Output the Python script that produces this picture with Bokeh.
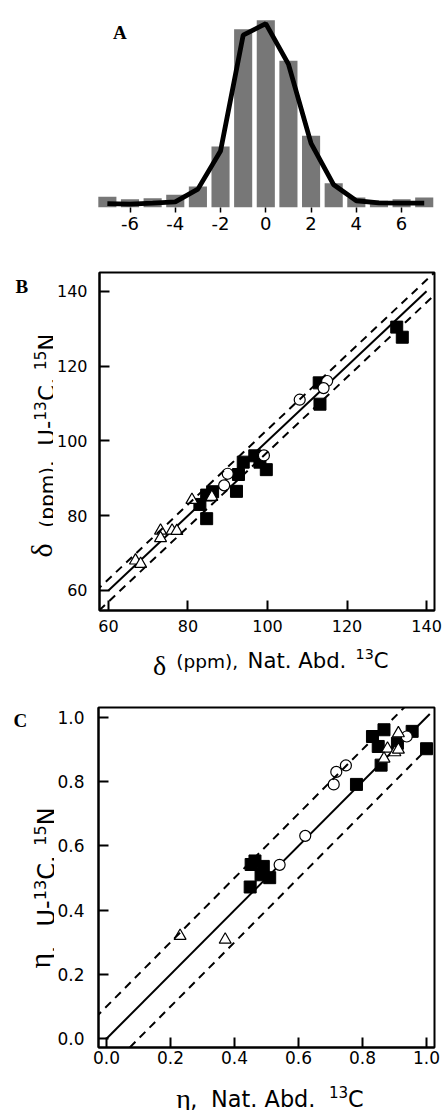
import numpy as np
from bokeh.plotting import figure
from bokeh.models import Range1d, Slope, FixedTicker, PrintfTickFormatter
from bokeh.core.properties import value
from bokeh.layouts import column, row
from bokeh.embed import file_html
from bokeh.resources import INLINE

# ---------------- data ----------------
# Panel A: histogram of differences (relative counts) and fitted curve
hist_bins = [-7, -6, -5, -4, -3, -2, -1, 0, 1, 2, 3, 4, 5, 6, 7]
hist_counts = [5.7, 4.4, 5.0, 6.8, 11.2, 32.6, 95.2, 100.0, 78.3, 38.3, 13.0, 5.3, 3.6, 4.4, 5.3]
fit_curve = [2.1, 1.8, 2.3, 3.0, 9.8, 30.2, 92.0, 98.2, 76.5, 34.2, 12.1, 3.6, 2.5, 2.3, 2.3]
hist_ticks = [-6, -4, -2, 0, 2, 4, 6]

# Panel B: delta (ppm)
b_sq_x = [132.5, 133.9, 113.2, 113.0, 93.9, 96.8, 98.1, 99.7, 92.7, 92.2, 86.2, 84.7, 83.0, 84.7]
b_sq_y = [130.4, 127.7, 109.8, 115.5, 94.3, 96.0, 94.3, 92.3, 91.0, 86.5, 86.4, 85.5, 83.0, 79.2]
b_ci_x = [115.0, 114.1, 108.1, 99.1, 90.0, 89.1]
b_ci_y = [116.0, 114.1, 111.0, 96.1, 91.2, 88.1]
b_tr_x = [81.0, 86.0, 73.1, 73.1, 76.0, 77.2, 66.8, 68.1]
b_tr_y = [84.2, 85.0, 76.0, 74.0, 76.0, 75.9, 68.0, 67.1]
b_fit_x = [60, 140]
b_band = 3.0
b_ticks = [60, 80, 100, 120, 140]

# Panel C: eta
c_sq_x = [0.831, 0.867, 0.849, 0.909, 0.955, 1.000, 0.858, 0.781, 0.452, 0.464, 0.490, 0.483, 0.510, 0.449]
c_sq_y = [0.940, 0.961, 0.909, 0.919, 0.956, 0.902, 0.851, 0.791, 0.542, 0.553, 0.536, 0.510, 0.501, 0.472]
c_ci_x = [0.938, 0.748, 0.718, 0.710, 0.621, 0.541]
c_ci_y = [0.940, 0.850, 0.830, 0.791, 0.631, 0.541]
c_tr_x = [0.912, 0.878, 0.901, 0.912, 0.867, 0.230, 0.371]
c_tr_y = [0.950, 0.902, 0.891, 0.899, 0.871, 0.320, 0.308]
c_fit_x = [0.0, 1.01]
c_band = 0.1
c_ticks = [0.0, 0.2, 0.4, 0.6, 0.8, 1.0]

SANS = "DejaVu Sans"
SERIF = "Liberation Serif"
R = np.pi / 2

# approximate advance widths (em) used to lay out multi-part labels
ADV = {" ": 0.318, "(": 0.390, ")": 0.390, ",": 0.318, "-": 0.361, ".": 0.318,
       "1": 0.636, "3": 0.636, "5": 0.636, "A": 0.684, "C": 0.698, "N": 0.748,
       "U": 0.732, "a": 0.613, "b": 0.635, "d": 0.635, "m": 0.974, "p": 0.635,
       "t": 0.392, "δ": 0.50, "η": 0.50}


def text_width(t, size):
    return sum(ADV.get(ch, 0.6) for ch in t) * size


def make_fig(left, top, width, height, fl, ft, fw, fh, xr, yr):
    p = figure(width=width, height=height, x_range=Range1d(*xr), y_range=Range1d(*yr),
               output_backend="svg", toolbar_location=None,
               min_border_left=fl - left, min_border_right=width - (fl - left) - fw,
               min_border_top=ft - top, min_border_bottom=height - (ft - top) - fh)
    p.grid.visible = False
    p.background_fill_color = "white"
    p.border_fill_color = "white"
    return p


def text_fig(left, top, width, height, bl=0, br=0, bt=0, bb=0):
    fw, fh = width - bl - br, height - bt - bb
    p = figure(width=width, height=height, x_range=Range1d(0, fw), y_range=Range1d(0, fh),
               output_backend="svg", toolbar_location=None, x_axis_type=None, y_axis_type=None,
               min_border_left=bl, min_border_right=br, min_border_top=bt, min_border_bottom=bb)
    p.grid.visible = False
    p.outline_line_color = None
    p.background_fill_color = "white"
    p.border_fill_color = "white"
    return p, dict(fl=left + bl, fb=top + bt + fh)


def piece(p, g, px, py, text, font, size, style="normal", angle=0.0):
    p.text(x=[px - g["fl"]], y=[g["fb"] - py], text=[text],
           text_font=value(font), text_font_size=value("%.1fpx" % size), text_font_style=style,
           angle=angle, text_align="left", text_baseline="alphabetic", text_color="black")


def lay_label(p, g, pieces, start, end, weights, rotated, grow=0.6):
    """pieces: (text, font, base_size, scalable, baseline); lay them from start to end."""
    span = abs(end - start)
    main = max(s for _, _, s, sc, _ in pieces if sc)
    nat = sum(text_width(t, s) for t, _, s, _, _ in pieces) + sum(weights) * 0.3 * main
    s_full = span / nat
    fs = 1 + grow * (s_full - 1)
    sizes = [s * fs if sc else s for _, _, s, sc, _ in pieces]
    widths = [text_width(t, sz) for (t, _, _, _, _), sz in zip(pieces, sizes)]
    wsum = sum(weights) if sum(weights) > 0 else 1
    extra = (span - sum(widths)) / wsum
    d = 1 if end > start else -1
    pos = start
    for i, ((t, font, _, _, base), sz) in enumerate(zip(pieces, sizes)):
        if rotated:
            piece(p, g, base, pos, t, font, sz, angle=R)
        else:
            piece(p, g, pos, base, t, font, sz)
        w = widths[i] + (extra * weights[i] if i < len(weights) else 0)
        pos += d * w


def style_box_axes(p, ticks, size, standoff_x, standoff_y):
    for ax in (p.xaxis[0], p.yaxis[0]):
        ax.ticker = FixedTicker(ticks=ticks)
        ax.major_tick_in = 10
        ax.major_tick_out = 0
        ax.minor_tick_in = 0
        ax.minor_tick_out = 0
        ax.major_tick_line_width = 2
        ax.major_tick_line_color = "black"
        ax.axis_line_width = 2
        ax.axis_line_color = "black"
        ax.major_label_text_font = SANS
        ax.major_label_text_font_size = size
        ax.major_label_text_color = "black"
    p.xaxis.major_label_standoff = standoff_x
    p.yaxis.major_label_standoff = standoff_y
    p.outline_line_color = "black"
    p.outline_line_width = 2
    p.outline_line_alpha = 1.0


# ---------------- Panel A ----------------
pa = make_fig(0, 0, 443, 243, 96, 12, 345, 195, (-7.436, 7.454), (0, 104.1))
pa.yaxis.visible = False
pa.outline_line_color = None
pa.xaxis.ticker = FixedTicker(ticks=hist_ticks)
pa.xaxis.formatter = PrintfTickFormatter(format="%d")
pa.xaxis.axis_line_color = None
pa.xaxis.major_tick_out = 5
pa.xaxis.major_tick_in = 0
pa.xaxis.minor_tick_out = 0
pa.xaxis.minor_tick_in = 0
pa.xaxis.major_tick_line_width = 1.5
pa.xaxis.major_tick_line_color = "black"
pa.xaxis.major_label_text_font = SANS
pa.xaxis.major_label_text_font_size = "18px"
pa.xaxis.major_label_text_color = "black"
pa.xaxis.major_label_standoff = 4
pa.vbar(x=hist_bins, top=hist_counts, bottom=0, width=0.8, fill_color="#777777", line_color=None)
pa.line(hist_bins, fit_curve, line_width=4.8, line_color="black")
pa.text(x=[-6.75], y=[93.4], text=["A"], text_font=value(SERIF), text_font_size=value("19px"),
        text_font_style="bold", text_align="left", text_baseline="alphabetic", text_color="black")

# ---------------- Panel B ----------------
pb = make_fig(53, 243, 390, 395, 97, 272, 337, 338, (57.75, 142.0), (54.65, 145.0))
style_box_axes(pb, b_ticks, "16px", 9, 12)
for off in (b_band, -b_band):
    pb.add_layout(Slope(gradient=1, y_intercept=off, line_color="black", line_width=2, line_dash="8 6"))
pb.line(b_fit_x, b_fit_x, line_color="black", line_width=2)
pb.scatter(b_sq_x, b_sq_y, marker="square", size=12, fill_color="black", line_color="black")
pb.scatter(b_ci_x, b_ci_y, marker="circle", size=11, fill_color="white", line_color="black", line_width=1.2)
pb.scatter(b_tr_x, b_tr_y, marker="triangle", size=12, fill_color="white", line_color="black", line_width=1.2)

# B y label + panel letter (frame aligned with pb's frame: 272..610)
ylb, gylb = text_fig(0, 243, 53, 395, bt=29, bb=28)
piece(ylb, gylb, 15, 286, "B", SERIF, 19, "bold")
lay_label(ylb, gylb,
          [("δ", SERIF, 30, False, 41), ("(ppm),", SANS, 17.5, True, 46.5),
           ("U-", SANS, 20, True, 46.5), ("13", SANS, 13.5, True, 39.5),
           ("C,", SANS, 20, True, 46.5), ("15", SANS, 13.5, True, 39.5),
           ("N", SANS, 20, True, 46.5)],
          557, 333, [1, 1, 0, 0, 0.5, 0], rotated=True)

# B x label (frame aligned with pb's frame: 97..434)
xlb, gxlb = text_fig(0, 638, 443, 38, bl=97, br=9)
lay_label(xlb, gxlb,
          [("δ", SERIF, 28, False, 665), ("(ppm),", SANS, 17.5, True, 661),
           ("Nat. Abd.", SANS, 20, True, 659.5), ("13", SANS, 13.5, True, 653),
           ("C", SANS, 20, True, 659.5)],
          152.5, 388, [1, 1, 1, 0], rotated=False)

# ---------------- Panel C ----------------
pc = make_fig(54, 676, 389, 399, 96, 707, 338, 340, (-0.0248, 1.0248), (-0.0271, 1.0302))
style_box_axes(pc, c_ticks, "17px", 3, 14)
pc.xaxis.formatter = PrintfTickFormatter(format="%.1f")
pc.yaxis.formatter = PrintfTickFormatter(format="%.1f")
for off in (c_band, -c_band):
    pc.add_layout(Slope(gradient=1, y_intercept=off, line_color="black", line_width=2, line_dash="8 6"))
pc.line(c_fit_x, c_fit_x, line_color="black", line_width=2)
pc.scatter(c_sq_x, c_sq_y, marker="square", size=12, fill_color="black", line_color="black")
pc.scatter(c_ci_x, c_ci_y, marker="circle", size=11, fill_color="white", line_color="black", line_width=1.2)
pc.scatter(c_tr_x, c_tr_y, marker="triangle", size=12, fill_color="white", line_color="black", line_width=1.2)

# C y label + panel letter (frame aligned with pc's frame: 707..1047)
ylc, gylc = text_fig(0, 676, 54, 399, bt=31, bb=28)
piece(ylc, gylc, 13, 720, "C", SERIF, 19, "bold")
lay_label(ylc, gylc,
          [("η", SERIF, 30, False, 38.5), (",", SANS, 20, True, 46.5),
           ("U-", SANS, 20, True, 46.5), ("13", SANS, 13.5, True, 39.5),
           ("C,", SANS, 20, True, 46.5), ("15", SANS, 13.5, True, 39.5),
           ("N", SANS, 20, True, 46.5)],
          968, 807, [0, 1, 0, 0, 0.5, 0], rotated=True)

# C x label (frame aligned with pc's frame: 96..434)
xlc, gxlc = text_fig(0, 1075, 443, 35, bl=96, br=9)
lay_label(xlc, gxlc,
          [("η", SERIF, 28, False, 1098), (",", SANS, 20, True, 1098),
           ("Nat. Abd.", SANS, 20, True, 1098), ("13", SANS, 13.5, True, 1091),
           ("C", SANS, 20, True, 1098)],
          175, 363, [0, 1, 1, 0], rotated=False)

layout = column(pa, row(ylb, pb), xlb, row(ylc, pc), xlc)
open("out.html", "w").write(file_html(layout, INLINE))
